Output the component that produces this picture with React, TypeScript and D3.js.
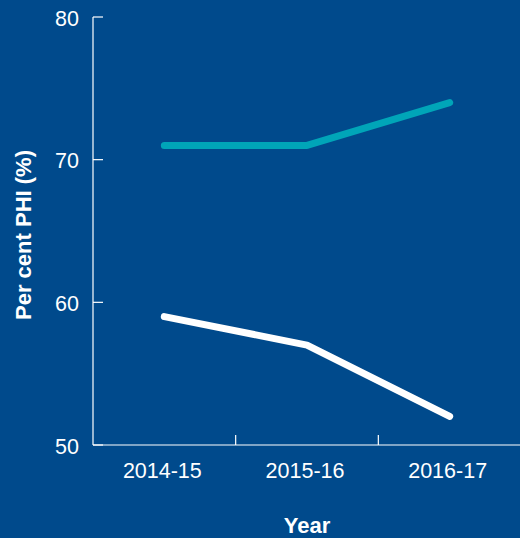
import { useEffect, useRef } from "react";
import * as d3 from "d3";

const YEARS = ["2014-15", "2015-16", "2016-17"];
const TEAL_SERIES = [71, 71, 74];
const WHITE_SERIES = [59, 57, 52];
const Y_TICKS = [50, 60, 70, 80];

const W = 520;
const H = 538;
const BG = "#004a8c";
const TEAL = "#00a5b8";
const FONT = "'Liberation Sans', Arial, Helvetica, sans-serif";

export default function App() {
  const svgRef = useRef<SVGSVGElement>(null);

  useEffect(() => {
    document.body.style.margin = "0";
    const svg = d3.select(svgRef.current);
    svg.selectAll("*").remove();

    const left = 93;
    const right = 521;
    const top = 17;
    const bottom = 445;

    const x = d3.scaleBand<string>().domain(YEARS).range([left, right]);
    const y = d3.scaleLinear().domain([50, 80]).range([bottom, top]);

    svg.append("rect").attr("width", W).attr("height", H).attr("fill", BG);

    const g = svg.append("g");

    // y axis: line + inward ticks
    g.append("line")
      .attr("x1", left).attr("x2", left)
      .attr("y1", top).attr("y2", bottom)
      .attr("stroke", "#fff").attr("stroke-width", 1.2);
    for (const t of Y_TICKS) {
      g.append("line")
        .attr("x1", left).attr("x2", left + 10)
        .attr("y1", y(t)).attr("y2", y(t))
        .attr("stroke", "#fff").attr("stroke-width", 1.2);
      g.append("text")
        .attr("x", 79).attr("y", y(t)).attr("dy", "0.4em")
        .attr("text-anchor", "end").attr("fill", "#fff")
        .attr("font-family", FONT).attr("font-size", 21.5)
        .text(t);
    }

    // x axis: line + upward ticks at band boundaries
    g.append("line")
      .attr("x1", left).attr("x2", right)
      .attr("y1", bottom).attr("y2", bottom)
      .attr("stroke", "#fff").attr("stroke-width", 1.2);
    YEARS.forEach((yr) => {
      const bx = (x(yr) ?? 0) + x.bandwidth();
      g.append("line")
        .attr("x1", bx).attr("x2", bx)
        .attr("y1", bottom).attr("y2", bottom - 10)
        .attr("stroke", "#fff").attr("stroke-width", 1.2);
      g.append("text")
        .attr("x", (x(yr) ?? 0) + x.bandwidth() / 2 - 2).attr("y", 478)
        .attr("text-anchor", "middle").attr("fill", "#fff")
        .attr("font-family", FONT).attr("font-size", 21.5)
        .text(yr);
    });

    const cx = (i: number) => (x(YEARS[i]) ?? 0) + x.bandwidth() / 2;
    const line = d3.line<number>().x((_, i) => cx(i)).y((d) => y(d));

    g.append("path")
      .attr("d", line(TEAL_SERIES)!)
      .attr("fill", "none").attr("stroke", TEAL)
      .attr("stroke-width", 7).attr("stroke-linecap", "round").attr("stroke-linejoin", "round");
    g.append("path")
      .attr("d", line(WHITE_SERIES)!)
      .attr("fill", "none").attr("stroke", "#fff")
      .attr("stroke-width", 7).attr("stroke-linecap", "round").attr("stroke-linejoin", "round");

    // axis titles
    g.append("text")
      .attr("x", 307).attr("y", 533)
      .attr("text-anchor", "middle").attr("fill", "#fff")
      .attr("font-family", FONT).attr("font-size", 22).attr("font-weight", "bold")
      .text("Year");
    g.append("text")
      .attr("transform", `translate(31,235) rotate(-90)`)
      .attr("text-anchor", "middle").attr("fill", "#fff")
      .attr("font-family", FONT).attr("font-size", 22).attr("font-weight", "bold")
      .text("Per cent PHI (%)");
  }, []);

  return <svg ref={svgRef} width={W} height={H} style={{ display: "block" }} />;
}
